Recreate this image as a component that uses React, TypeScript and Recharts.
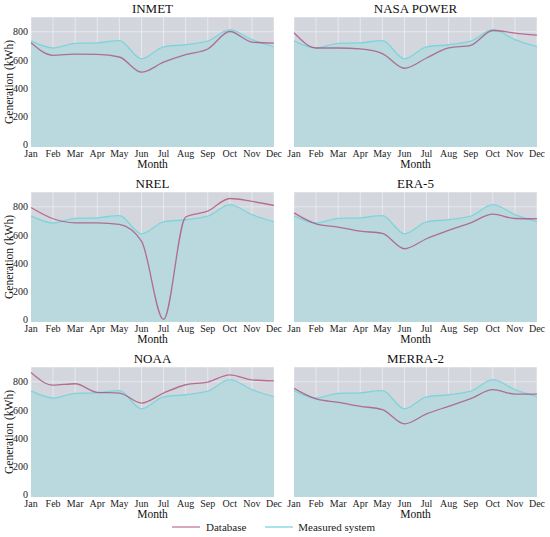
import React from 'react'
import { ComposedChart, Area, Line, XAxis, YAxis, CartesianGrid } from 'recharts'

const months = ['Jan', 'Feb', 'Mar', 'Apr', 'May', 'Jun', 'Jul', 'Aug', 'Sep', 'Oct', 'Nov', 'Dec']
const measured = [735, 685, 718, 722, 737, 608, 693, 708, 733, 815, 745, 694]
const inmet = [722, 633, 642, 640, 621, 513, 584, 638, 678, 802, 727, 720]
const nasaPower = [793, 685, 685, 678, 645, 541, 614, 685, 704, 809, 791, 776]
const nrel = [795, 715, 686, 686, 675, 556, 0, 727, 769, 859, 838, 809]
const era5 = [757, 679, 656, 627, 611, 502, 573, 632, 686, 748, 717, 715]
const noaa = [866, 776, 786, 725, 720, 649, 720, 779, 798, 849, 814, 807]
const merra2 = [753, 678, 654, 626, 602, 501, 572, 626, 680, 744, 713, 713]
const yTicks = [0, 200, 400, 600, 800]

const FONT = "'Liberation Serif', 'Times New Roman', Times, serif"
const BG = '#d3d6dd'
const FILL = '#bad9de'
const MEASURED = '#7fd4db'
const DATABASE = '#a8406f'

const panels = [
  { title: 'INMET', values: inmet },
  { title: 'NASA POWER', values: nasaPower },
  { title: 'NREL', values: nrel },
  { title: 'ERA-5', values: era5 },
  { title: 'NOAA', values: noaa },
  { title: 'MERRA-2', values: merra2 },
]

const tickStyle = { fontFamily: FONT, fontSize: 10, fill: '#222', style: { fontFamily: FONT } }

function Panel({ title, values, index }: { title: string; values: number[]; index: number }) {
  const col = index % 2
  const row = Math.floor(index / 2)
  const isLeft = col === 0
  const top = row * 175
  // left panel plot spans x 31..274, right panel 294..537
  const left = isLeft ? 0 : 276
  const width = isLeft ? 290 : 274
  const data = months.map((m, i) => ({ i, measured: measured[i], db: values[i] }))
  const plotLeft = isLeft ? 31 : 294
  const plotWidth = 243

  return (
    <>
      <div
        style={{
          position: 'absolute',
          top: top + 1,
          left: plotLeft,
          width: plotWidth,
          textAlign: 'center',
          fontFamily: FONT,
          fontSize: 13,
          lineHeight: '16px',
          color: '#111',
        }}
      >
        {title}
      </div>
      <div style={{ position: 'absolute', top, left }}>
        <ComposedChart
          width={width}
          height={177}
          data={data}
          margin={{ top: 17, right: isLeft ? 16 : 13, bottom: 0, left: isLeft ? 0 : 18 }}
        >
          <CartesianGrid fill={BG} stroke="#ffffff" strokeOpacity={0.45} vertical horizontal />
          <XAxis
            dataKey="i"
            type="number"
            domain={[0, 11]}
            ticks={months.map((_, i) => i)}
            tickFormatter={(v: number) => months[v]}
            interval={0}
            axisLine={false}
            tickLine={false}
            tickSize={0}
            tickMargin={3}
            height={30}
            tick={tickStyle}
            label={{
              value: 'Month',
              position: 'insideBottom',
              offset: 9,
              style: { fontFamily: FONT, fontSize: 11.5, fill: '#111' },
            }}
          />
          <YAxis
            type="number"
            domain={[-18, 905]}
            ticks={yTicks}
            hide={!isLeft}
            width={31}
            axisLine={false}
            tickLine={false}
            tickSize={0}
            tickMargin={3}
            tick={tickStyle}
            label={{
              value: 'Generation (kWh)',
              angle: -90,
              position: 'insideLeft',
              offset: 9,
              style: { fontFamily: FONT, fontSize: 11.5, fill: '#111', textAnchor: 'middle' },
            }}
          />
          <Area
            type="monotone"
            dataKey="measured"
            baseValue="dataMin"
            fill={FILL}
            fillOpacity={1}
            stroke={MEASURED}
            strokeWidth={1.3}
            isAnimationActive={false}
          />
          <Line
            type="monotone"
            dataKey="db"
            stroke={DATABASE}
            strokeOpacity={0.7}
            strokeWidth={1.3}
            dot={false}
            isAnimationActive={false}
          />
        </ComposedChart>
      </div>
    </>
  )
}

export default function App() {
  return (
    <div
      style={{
        position: 'absolute',
        top: 0,
        left: 0,
        width: 550,
        height: 537,
        background: '#fff',
        overflow: 'hidden',
        fontFamily: FONT,
      }}
    >
      {panels.map((p, i) => (
        <Panel key={p.title} title={p.title} values={p.values} index={i} />
      ))}
      <div
        style={{
          position: 'absolute',
          top: 519,
          left: 172,
          display: 'flex',
          alignItems: 'center',
          fontFamily: FONT,
          fontSize: 11,
          color: '#222',
          height: 16,
        }}
      >
        <svg width={28} height={4}>
          <line x1={0} x2={28} y1={2} y2={2} stroke={DATABASE} strokeOpacity={0.7} strokeWidth={1.3} />
        </svg>
        <span style={{ marginLeft: 6 }}>Database</span>
        <svg width={28} height={4} style={{ marginLeft: 19 }}>
          <line x1={0} x2={28} y1={2} y2={2} stroke={MEASURED} strokeWidth={1.3} />
        </svg>
        <span style={{ marginLeft: 5 }}>Measured system</span>
      </div>
    </div>
  )
}
